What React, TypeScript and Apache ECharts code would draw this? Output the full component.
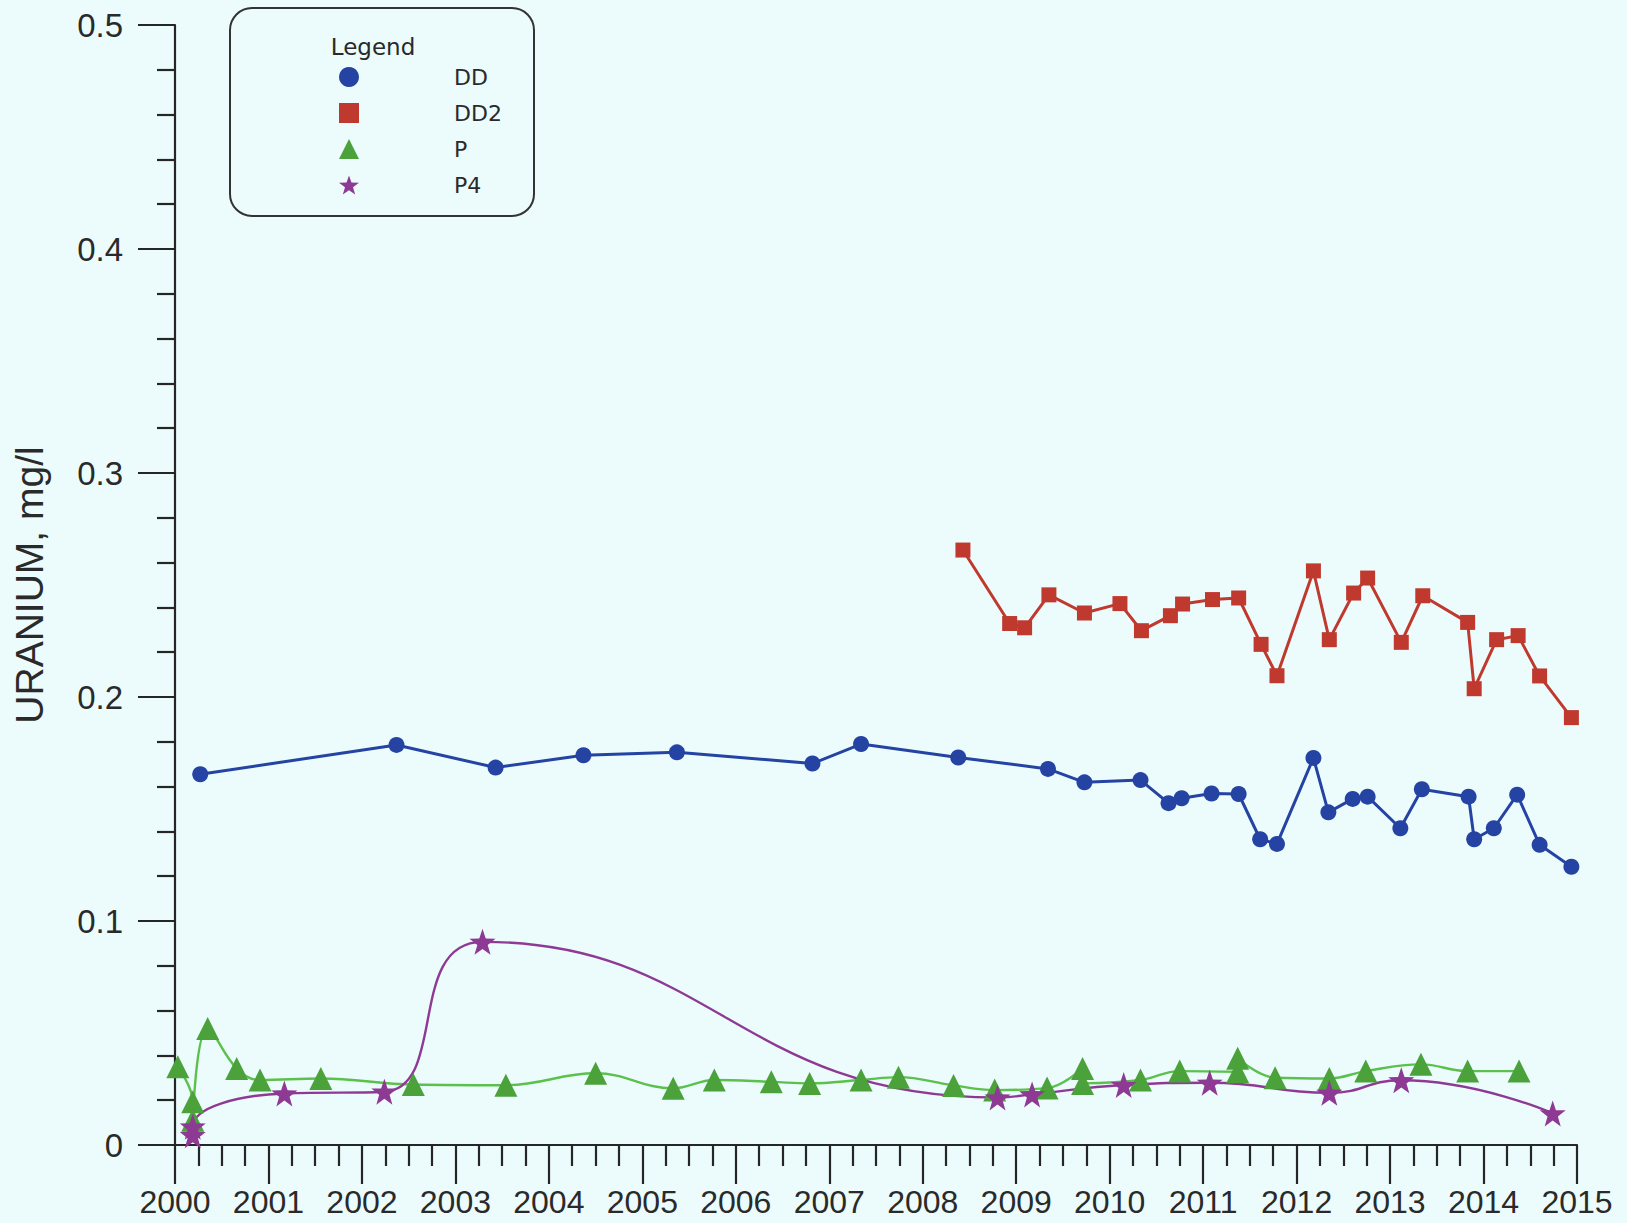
import React, { useEffect, useRef } from "react";
import * as echarts from "echarts";

// ---- Data (decimal year, uranium mg/l) ----
const ddYears = [2000.27, 2002.37, 2003.43, 2004.37, 2005.37, 2006.82, 2007.34, 2008.38, 2009.34, 2009.73, 2010.33, 2010.63, 2010.77, 2011.09, 2011.38, 2011.61, 2011.79, 2012.18, 2012.34, 2012.6, 2012.76, 2013.11, 2013.34, 2013.84, 2013.9, 2014.11, 2014.36, 2014.6, 2014.94];
const ddValues = [0.1655, 0.1786, 0.1685, 0.174, 0.1753, 0.1703, 0.179, 0.173, 0.1679, 0.1619, 0.1629, 0.1526, 0.1548, 0.1569, 0.1567, 0.1365, 0.1344, 0.1728, 0.1485, 0.1545, 0.1555, 0.1414, 0.1588, 0.1555, 0.1365, 0.1414, 0.1564, 0.1340, 0.1242];

const dd2Years = [2008.43, 2008.93, 2009.09, 2009.35, 2009.73, 2010.11, 2010.34, 2010.65, 2010.78, 2011.1, 2011.38, 2011.62, 2011.79, 2012.18, 2012.35, 2012.61, 2012.76, 2013.12, 2013.35, 2013.83, 2013.9, 2014.14, 2014.37, 2014.6, 2014.94];
const dd2Values = [0.2656, 0.2328, 0.2309, 0.2456, 0.2375, 0.2417, 0.2296, 0.2363, 0.2415, 0.2435, 0.2442, 0.2235, 0.2095, 0.2563, 0.2256, 0.2464, 0.2531, 0.2244, 0.2452, 0.2333, 0.2037, 0.2256, 0.2274, 0.2094, 0.1908];

const pYears = [2000.03, 2000.19, 2000.19, 2000.35, 2000.66, 2000.91, 2001.56, 2002.55, 2003.54, 2004.5, 2005.33, 2005.77, 2006.38, 2006.79, 2007.34, 2007.74, 2008.33, 2008.77, 2009.33, 2009.71, 2009.71, 2010.33, 2010.75, 2011.37, 2011.37, 2011.77, 2012.35, 2012.74, 2013.33, 2013.83, 2014.38];
const pValues = [0.0349, 0.0193, 0.0111, 0.052, 0.0342, 0.029, 0.0297, 0.027, 0.0267, 0.032, 0.0253, 0.029, 0.0282, 0.0275, 0.029, 0.0303, 0.0266, 0.0245, 0.0254, 0.0342, 0.0275, 0.029, 0.033, 0.0327, 0.0387, 0.030, 0.0297, 0.033, 0.036, 0.033, 0.033];

const p4Years = [2000.19, 2000.19, 2001.17, 2002.24, 2003.29, 2008.8, 2009.17, 2010.15, 2011.07, 2012.35, 2013.12, 2014.74];
const p4Values = [0.0044, 0.0082, 0.023, 0.0238, 0.0907, 0.0212, 0.0226, 0.0268, 0.0278, 0.0233, 0.0289, 0.0141];

const seriesNames = ["DD", "DD2", "P", "P4"];
const yTickLabels = ["0", "0.1", "0.2", "0.3", "0.4", "0.5"];

const STAR = "path://M50,0 L61.8,33.8 L97.6,34.5 L69,56.2 L79.4,90.5 L50,70 L20.6,90.5 L31,56.2 L2.4,34.5 L38.2,33.8 Z";

const zip = (xs: number[], ys: number[]) => xs.map((x, i) => [x, ys[i]]);

export default function App() {
  const ref = useRef<HTMLDivElement>(null);

  useEffect(() => {
    if (!ref.current) return;
    const chart = echarts.init(ref.current, undefined, { renderer: "svg" });
    const axisColor = "#262626";
    const tickFont = "Liberation Sans, Arial, sans-serif";

    chart.setOption({
      animation: false,
      backgroundColor: "#ecfcfc",
      grid: { left: 175, right: 50, top: 25, bottom: 78, containLabel: false },
      legend: {
        orient: "vertical",
        left: 334,
        top: 61,
        itemWidth: 20,
        itemHeight: 20,
        itemGap: 14,
        selectedMode: false,
        textStyle: {
          fontFamily: "DejaVu Sans, Verdana, sans-serif",
          fontSize: 22,
          color: "#2a2a2a",
          lineHeight: 20,
          padding: [0, 0, 0, 90],
        },
        data: [
          { name: seriesNames[0], icon: "circle", itemStyle: { color: "#2443a3" } },
          { name: seriesNames[1], icon: "rect", itemStyle: { color: "#c0392e" } },
          { name: seriesNames[2], icon: "triangle", itemStyle: { color: "#4ba23b" } },
          { name: seriesNames[3], icon: STAR, itemStyle: { color: "#8e3a94" } },
        ],
      },
      graphic: [
        {
          type: "rect",
          shape: { x: 230, y: 8, width: 304, height: 208, r: 22 },
          style: { fill: "none", stroke: "#333", lineWidth: 2 },
          z: 10,
        },
        {
          type: "text",
          x: 373,
          y: 47,
          style: {
            text: "Legend",
            fontFamily: "DejaVu Sans, Verdana, sans-serif",
            fontSize: 23,
            fill: "#2a2a2a",
            textAlign: "center",
            textVerticalAlign: "middle",
          },
          z: 10,
        },
      ],
      xAxis: {
        type: "value",
        min: 2000,
        max: 2015,
        interval: 1,
        axisLine: { show: true, onZero: false, lineStyle: { color: axisColor, width: 2.2 } },
        axisTick: { show: true, length: 39, lineStyle: { color: axisColor, width: 2.2 } },
        minorTick: { show: true, splitNumber: 4, length: 21, lineStyle: { color: axisColor, width: 2.2 } },
        splitLine: { show: false },
        minorSplitLine: { show: false },
        axisLabel: {
          fontFamily: tickFont,
          fontSize: 32,
          color: "#2a2a2a",
          margin: 41,
          formatter: (v: number) => String(Math.round(v)),
        },
      },
      yAxis: {
        type: "value",
        min: 0,
        max: 0.5,
        interval: 0.1,
        name: "URANIUM, mg/l",
        nameLocation: "middle",
        nameGap: 126,
        nameTextStyle: { fontFamily: tickFont, fontSize: 39, color: "#2a2a2a" },
        axisLine: { show: true, lineStyle: { color: axisColor, width: 2.2 } },
        axisTick: { show: true, length: 37, lineStyle: { color: axisColor, width: 2.2 } },
        minorTick: { show: true, splitNumber: 5, length: 18, lineStyle: { color: axisColor, width: 2.2 } },
        splitLine: { show: false },
        minorSplitLine: { show: false },
        axisLabel: {
          fontFamily: tickFont,
          fontSize: 33,
          color: "#2a2a2a",
          margin: 52,
          formatter: (v: number) => yTickLabels[Math.round(v * 10)] ?? String(v),
        },
      },
      series: [
        {
          name: seriesNames[0],
          type: "line",
          data: zip(ddYears, ddValues),
          symbol: "circle",
          symbolSize: 16,
          itemStyle: { color: "#2443a3" },
          lineStyle: { color: "#2443a3", width: 3 },
          z: 3,
        },
        {
          name: seriesNames[1],
          type: "line",
          data: zip(dd2Years, dd2Values),
          symbol: "rect",
          symbolSize: 15,
          itemStyle: { color: "#c0392e" },
          lineStyle: { color: "#c0392e", width: 3 },
          z: 3,
        },
        {
          name: seriesNames[2],
          type: "line",
          data: zip(pYears, pValues),
          symbol: "triangle",
          symbolSize: 23,
          smooth: 0.4,
          itemStyle: { color: "#4ba23b" },
          lineStyle: { color: "#5cc04c", width: 2.4 },
          z: 2,
        },
        {
          name: seriesNames[3],
          type: "line",
          data: zip(p4Years, p4Values),
          symbol: STAR,
          symbolSize: 26,
          smooth: 0.5,
          itemStyle: { color: "#8e3a94" },
          lineStyle: { color: "#8e3a94", width: 2.4 },
          z: 2,
        },
      ],
    });

    return () => chart.dispose();
  }, []);

  return (
    <div
      ref={ref}
      style={{ position: "absolute", left: 0, top: 0, width: 1627, height: 1223 }}
    />
  );
}
